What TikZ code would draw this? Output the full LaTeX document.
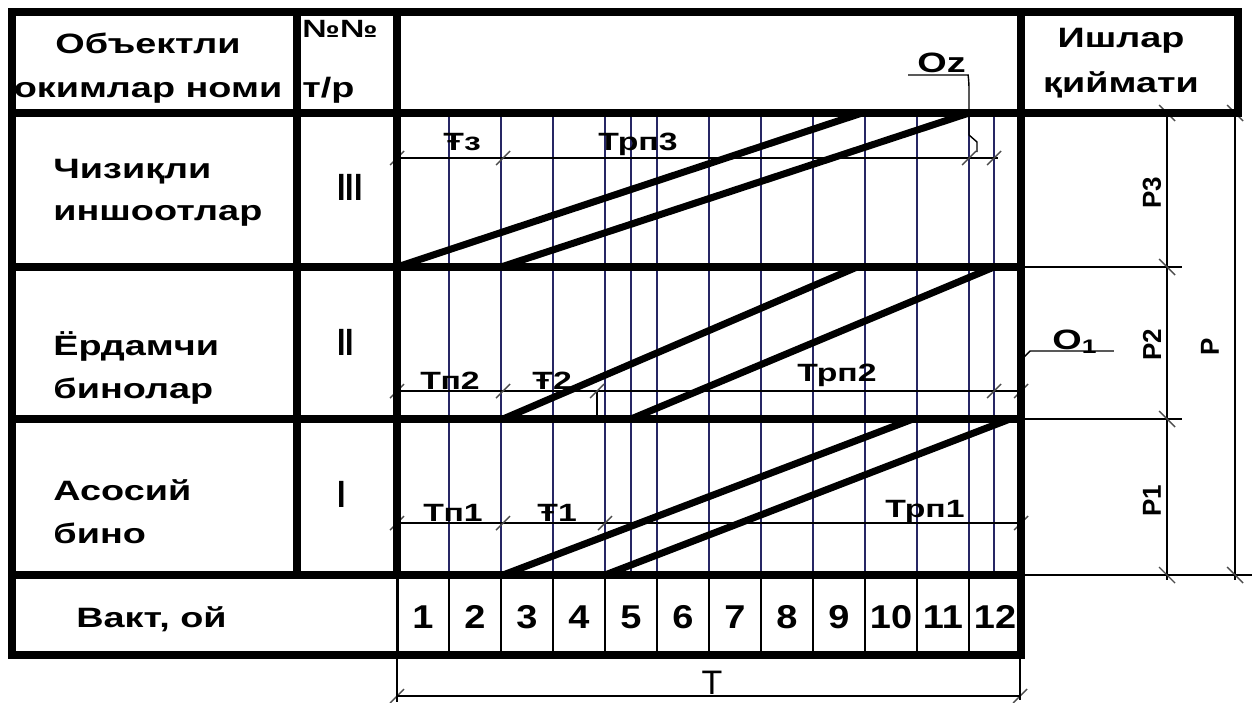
\documentclass[tikz,border=0pt]{standalone}
\usepackage{fontspec}
\setmainfont{Liberation Sans}
\newfontfamily\wide[FakeStretch=1.35]{Liberation Sans}
\newfontfamily\numwide[FakeStretch=1.15]{Liberation Sans}
\usepackage{graphicx}
\usepackage{xcolor}
\definecolor{gridnavy}{RGB}{38,38,100}

\begin{document}
\begin{tikzpicture}[x=0.5pt,y=-0.5pt,
    thickrule/.style={line width=4pt,line cap=rect},
    gridline/.style={line width=1pt,gridnavy},
    dimline/.style={line width=0.7pt},
    dimtick/.style={line width=0.7pt,black!70},
    flow/.style={line width=3.5pt},
    txt/.style={inner sep=0pt,font=\wide\bfseries\fontsize{14}{20}\selectfont},
    dimtxt/.style={inner sep=0pt,font=\wide\bfseries\fontsize{12.5}{15}\selectfont},
    numtxt/.style={inner sep=0pt,font=\numwide\bfseries\fontsize{16.5}{20}\selectfont},
    sidetxt/.style={inner sep=0pt,rotate=90,font=\bfseries\fontsize{13}{15}\selectfont}]

    \useasboundingbox (0,0) rectangle (1256,702);

    % garis tipis bulan
    \foreach \k in {1,...,11}
        \draw[gridline] ({397+52*\k},113) -- ({397+52*\k},575);
    \foreach \x in {631,994}
        \draw[gridline] (\x,113) -- (\x,575);

    % sel bulan di baris bawah
    \foreach \k in {1,...,11}
        \draw[line width=1pt] ({397+52*\k},575) -- ({397+52*\k},655);
    \foreach \k in {1,...,12}
        \node[numtxt,anchor=base] (m\k) at ({371+52*\k},628) {\k};

    % garis ukuran di dalam baris
    \draw[dimline] (397,158) -- (998,158);
    \draw[dimline] (397,391) -- (1021,391);
    \draw[dimline] (597,391) -- (597,419);
    \draw[dimline] (397,523) -- (1021,523);
    \foreach \x/\y in {397/158,503/158,969/158,994/158,
                       397/391,503/391,597/391,994/391,1021/391,
                       397/523,503/523,605/523,1021/523,
                       397/696,1020/696}
        \draw[dimtick] (\x-7,\y+7) -- (\x+7,\y-7);

    % garis ukuran di kanan
    \draw[dimline] (1021,267) -- (1182,267);
    \draw[dimline] (1021,419) -- (1182,419);
    \draw[dimline] (1021,575) -- (1252,575);
    \draw[dimline] (1167,113) -- (1167,580);
    \draw[dimline] (1235,113) -- (1235,580);
    \foreach \x/\y in {1167/113,1167/267,1167/419,1167/575,1235/113,1235/575}
        \draw[dimtick] (\x-8,\y-8) -- (\x+8,\y+8);

    % garis ukuran T di bawah
    \draw[dimline] (397,655) -- (397,702);
    \draw[dimline] (1020,655) -- (1020,700);
    \draw[dimline] (397,696) -- (1020,696);

    % bingkai tabel
    \draw[thickrule] (12,12) rectangle (1021,655);
    \draw[thickrule] (1021,12) -- (1238,12) -- (1238,113) -- (1021,113);
    \foreach \y in {113,267,419,575}
        \draw[thickrule] (12,\y) -- (1021,\y);
    \draw[thickrule] (297,12) -- (297,575);
    \draw[thickrule] (397,12) -- (397,575);
    \draw[line width=1.5pt] (397,575) -- (397,655);

    % garis aliran tiap obyek
    \draw[flow] (397,267) -- (862,113);
    \draw[flow] (501,267) -- (969,113);
    \draw[flow] (503,419) -- (857,267);
    \draw[flow] (631,419) -- (994,267);
    \draw[flow] (503,575) -- (913,419);
    \draw[flow] (605,575) -- (1010,419);

    % judul kolom
    \node[txt,anchor=base] (hdobj1) at (148,53) {Объектли};
    \node[txt,anchor=base] (hdobj2) at (148,97) {окимлар номи};
    \node[dimtxt,anchor=base west] (hdno) at (302,37) {№№};
    \node[txt,anchor=base west] (hdtr) at (302,97) {т/р};
    \node[txt,anchor=base] (hdcost1) at (1121,47) {Ишлар};
    \node[txt,anchor=base] (hdcost2) at (1121,92) {қиймати};

    % nama obyek
    \node[txt,anchor=base west] (obj3a) at (53,178) {Чизиқли};
    \node[txt,anchor=base west] (obj3b) at (53,220) {иншоотлар};
    \node[txt,anchor=base west] (obj2a) at (53,355) {Ёрдамчи};
    \node[txt,anchor=base west] (obj2b) at (53,398) {бинолар};
    \node[txt,anchor=base west] (obj1a) at (53,500) {Асосий};
    \node[txt,anchor=base west] (obj1b) at (53,543) {бино};
    \node[txt,anchor=base west] (time) at (76,627) {Вакт, ой};

    % nomor urut
    \node[inner sep=0pt,anchor=base west,font=\bfseries\fontsize{19}{20}\selectfont] (no3) at (337,200) {\scalebox{0.8}[1]{III}};
    \node[inner sep=0pt,anchor=base west,font=\bfseries\fontsize{19}{20}\selectfont] (no2) at (337,355) {\scalebox{0.8}[1]{II}};
    \node[inner sep=0pt,anchor=base west,font=\bfseries\fontsize{19}{20}\selectfont] (no1) at (337,507) {\scalebox{0.8}[1]{I}};

    % label ukuran
    \node[dimtxt,anchor=base west] (t3) at (443,150) {Ŧз};
    \node[dimtxt,anchor=base west] (trp3) at (598,150) {Трп3};
    \node[dimtxt,anchor=base west] (tp2) at (420,389) {Тп2};
    \node[dimtxt,anchor=base west] (t2) at (532,389) {Ŧ2};
    \node[dimtxt,anchor=base west] (trp2) at (797,381) {Трп2};
    \node[dimtxt,anchor=base west] (tp1) at (423,521) {Тп1};
    \node[dimtxt,anchor=base west] (t1) at (537,521) {Ŧ1};
    \node[dimtxt,anchor=base west] (trp1) at (885,517) {Трп1};

    % label O dengan garis penunjuk
    \node[txt,anchor=base west] (oz) at (917,72) {Oz};
    \coordinate (ozend) at (977,152);
    \draw[dimline] ([xshift=-4.5pt,yshift=-1.5pt]oz.base west) -- ([xshift=1pt,yshift=-1.5pt]oz.base east)
        .. controls (968,75) and (969,80) .. (969,90) -- (969,135) -- (977,142) -- (ozend);
    \node[txt,anchor=base west] (o1) at (1052,349) {O\textsubscript{1}};
    \coordinate (o1end) at (1022,359);
    \draw[dimline] ([xshift=8pt,yshift=-1pt]o1.base east) -- (1030,351) -- (o1end);

    % label P di kanan
    \node[sidetxt] (p3) at (1152,193) {P3};
    \node[sidetxt] (p2) at (1152,345) {P2};
    \node[sidetxt] (p1) at (1152,501) {P1};
    \node[sidetxt] (p) at (1210,347) {P};

    % label T di bawah
    \node[inner sep=0pt,anchor=base,font=\fontsize{17}{20}\selectfont] (tt) at (712,694) {T};

\end{tikzpicture}
\end{document}
